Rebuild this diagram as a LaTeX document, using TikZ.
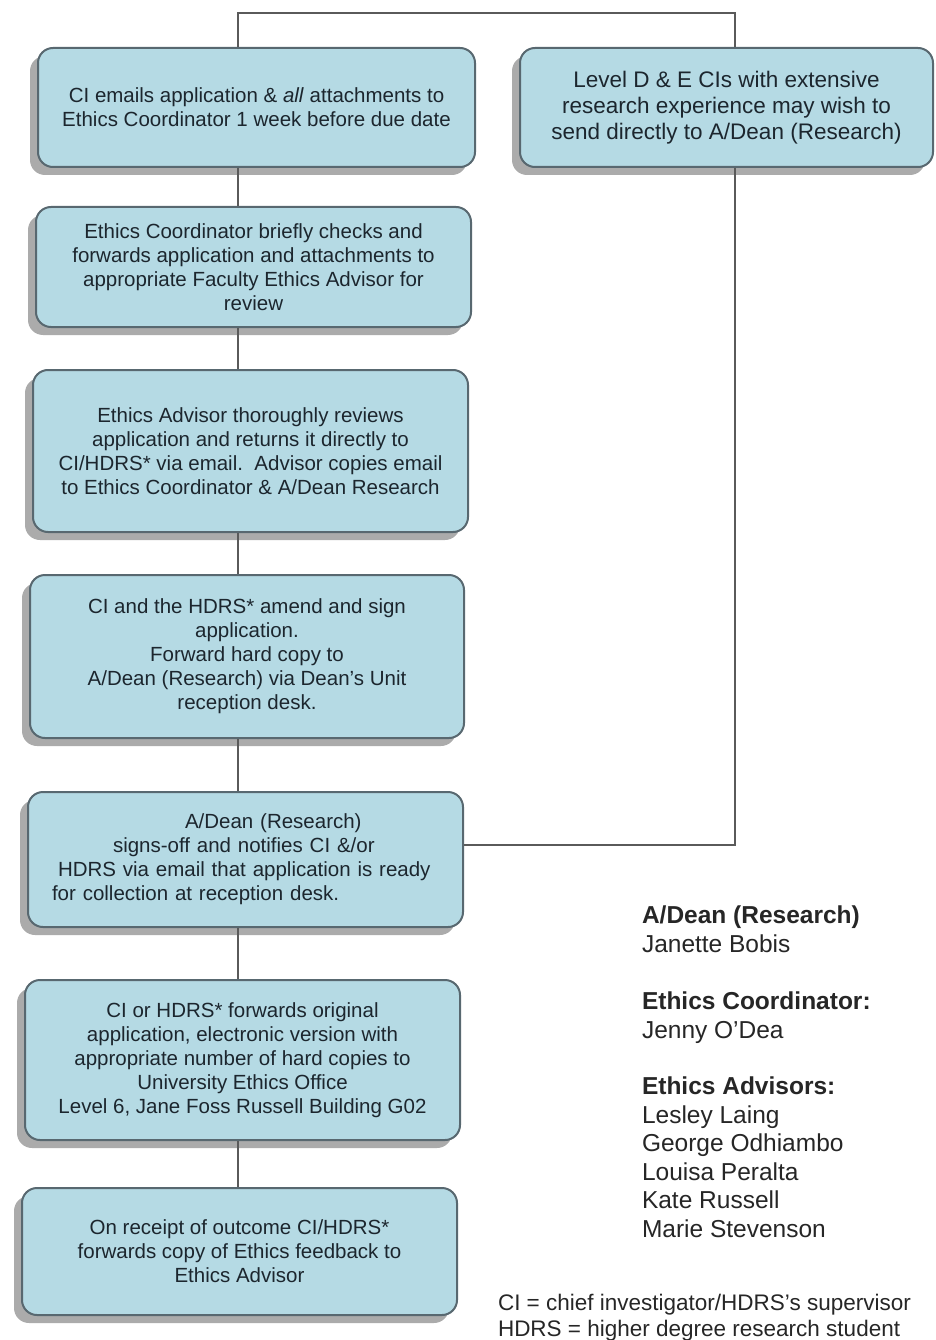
\documentclass[tikz,border=0pt]{standalone}
\usepackage{fontspec}
\setmainfont{Liberation Sans}
\usepackage{tikz}
\usetikzlibrary{positioning}
\usetikzlibrary{calc}
\usetikzlibrary{shadows}
\definecolor{boxfill}{RGB}{181,218,228}
\definecolor{boxline}{RGB}{88,104,112}
\definecolor{boxtext}{RGB}{28,38,46}
\definecolor{linkgray}{RGB}{90,90,90}
\tikzset{every picture/.style={line width=2pt,x=1pt,y=-1pt},
stage/.style={draw=boxline,fill=boxfill,rounded corners=15pt,text=boxtext,align=center,font=\fontsize{20.5}{24}\selectfont,drop shadow={shadow xshift=-8pt,shadow yshift=-8pt,fill=black!33,opacity=1}},
link/.style={draw=linkgray,line width=2pt},
legend/.style={align=left,anchor=north west,inner sep=0pt,text=black!85,font=\fontsize{24.5}{28.5}\selectfont}}

\begin{document}
\begin{tikzpicture}
\useasboundingbox (0,0) rectangle (935,1340);
\coordinate (spine) at (238,13);
\coordinate (rspine) at (735,13);
\coordinate (join) at (735,845);
% left column
\node (b1) at (256.5,107.5) [stage,minimum width=437pt,minimum height=119pt] {CI emails application \& \textit{all} attachments to\\Ethics Coordinator 1 week before due date};
\node (b2) at (253.5,267) [stage,minimum width=435pt,minimum height=120pt] {Ethics Coordinator briefly checks and\\forwards application and attachments to\\appropriate Faculty Ethics Advisor for\\review};
\node (b3) at (250.5,451) [stage,minimum width=435pt,minimum height=162pt] {Ethics Advisor thoroughly reviews\\application and returns it directly to\\CI/HDRS* via email.\ \ Advisor copies email\\to Ethics Coordinator \& A/Dean Research};
\node (b4) at (247,656.5) [stage,minimum width=434pt,minimum height=163pt] {CI and the HDRS* amend and sign\\application.\\Forward hard copy to\\A/Dean (Research) via Dean’s Unit\\reception desk.};
\node (b5) at (245.5,859.5) [stage,align=left,text width=411pt,inner xsep=12pt,minimum height=135pt] {\hspace*{145pt}A/Dean (Research)\\\hspace*{73pt}signs-off and notifies CI \&/or\\\hspace*{18pt}HDRS via email that application is ready\\\hspace*{12pt}for collection at reception desk.};
\node (b6) at (242.5,1060) [stage,minimum width=435pt,minimum height=160pt] {CI or HDRS* forwards original\\application, electronic version with\\appropriate number of hard copies to\\University Ethics Office\\Level 6, Jane Foss Russell Building G02};
\node (b7) at (239.5,1251.5) [stage,minimum width=435pt,minimum height=127pt] {On receipt of outcome CI/HDRS*\\forwards copy of Ethics feedback to\\Ethics Advisor};
% right box
\node (bR) at (726.5,107.5) [stage,minimum width=413pt,minimum height=119pt,font=\fontsize{22.5}{26}\selectfont] {Level D \& E CIs with extensive\\research experience may wish to\\send directly to A/Dean (Research)};
% connectors
\foreach \a/\b in {b1/b2, b2/b3, b3/b4, b4/b5, b5/b6, b6/b7} {
\draw[link] (\a.south -| spine) -- (\b.north -| spine);
}
\draw[link] (b1.north -| spine) -- (spine) -- (rspine) -- (bR.north -| rspine);
\draw[link] (bR.south -| rspine) -- (join) -- (b5.east |- join);
% legend
\node (lgdean) at (641,905) [legend] {\textbf{A/Dean (Research)}\\Janette Bobis};
\node (lgcoord) at (641,991) [legend] {\textbf{Ethics Coordinator:}\\Jenny O’Dea};
\node (lgadv) at (641,1076) [legend] {\textbf{Ethics Advisors:}\\Lesley Laing\\George Odhiambo\\Louisa Peralta\\Kate Russell\\Marie Stevenson};
\node (lgnote) at (497,1293.5) [legend,font=\fontsize{22.5}{26}\selectfont] {CI = chief investigator/HDRS’s supervisor\\HDRS = higher degree research student};
\end{tikzpicture}
\end{document}
